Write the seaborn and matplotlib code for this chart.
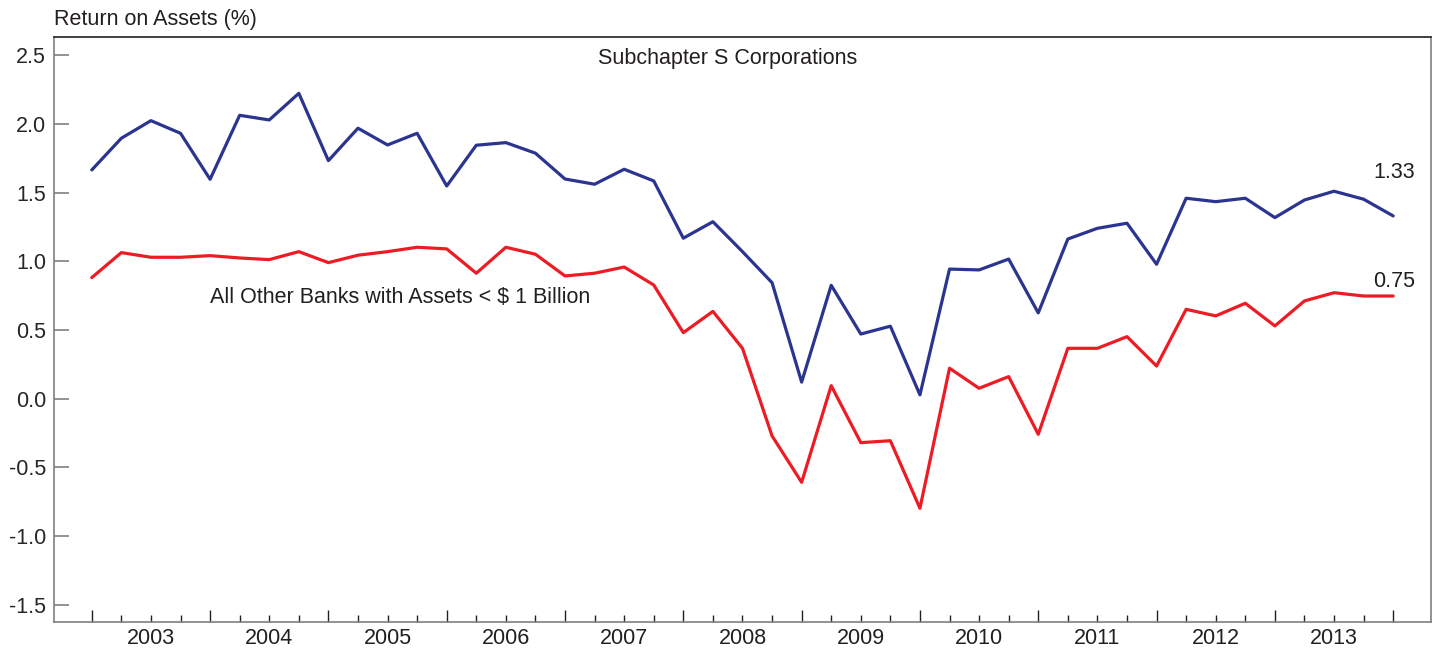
import pandas as pd
import matplotlib
matplotlib.use("Agg")
import matplotlib.pyplot as plt
import seaborn as sns

# quarterly data, 2002Q4 .. 2013Q4
quarters = [f"{y}Q{q}" for y in range(2002, 2014) for q in range(1, 5)][3:]
years = list(range(2003, 2014))

subchapter_s = [
    1.665, 1.896, 2.024, 1.932, 1.597, 2.063, 2.029, 2.223, 1.733, 1.969,
    1.847, 1.932, 1.548, 1.845, 1.864, 1.787, 1.599, 1.561, 1.670, 1.585,
    1.168, 1.288, 1.070, 0.844, 0.120, 0.825, 0.470, 0.527, 0.027, 0.943,
    0.937, 1.016, 0.624, 1.162, 1.240, 1.277, 0.978, 1.459, 1.434, 1.459,
    1.318, 1.446, 1.510, 1.452, 1.330,
]
other_banks = [
    0.881, 1.063, 1.029, 1.029, 1.041, 1.024, 1.012, 1.070, 0.990, 1.044,
    1.070, 1.102, 1.090, 0.913, 1.102, 1.051, 0.893, 0.913, 0.958, 0.827,
    0.480, 0.635, 0.366, -0.272, -0.610, 0.094, -0.321, -0.307, -0.799, 0.221,
    0.075, 0.160, -0.260, 0.366, 0.366, 0.451, 0.237, 0.650, 0.602, 0.694,
    0.529, 0.711, 0.771, 0.747, 0.747,
]

BLUE = "#2b3590"
RED = "#ed1c24"
GRAY = "#808080"
FS = 15.5

sns.set_theme(style="white")
plt.rcParams["font.family"] = ["Liberation Sans", "DejaVu Sans"]
plt.rcParams["text.color"] = "#231f20"

df = pd.DataFrame({
    "quarter": quarters,
    "idx": range(len(quarters)),
    "Subchapter S Corporations": subchapter_s,
    "All Other Banks": other_banks,
})
long = df.melt(id_vars=["quarter", "idx"], var_name="group", value_name="roa")

fig = plt.figure(figsize=(14.42, 6.51), dpi=100)
ax = fig.add_axes([0.0377, 0.0450, 0.9547, 0.8977])

sns.lineplot(data=long, x="idx", y="roa", hue="group",
             palette={"Subchapter S Corporations": BLUE, "All Other Banks": RED},
             linewidth=2.3, legend=False, ax=ax)

ax.set_xlim(-1.265, 45.28)
ax.set_ylim(-1.625, 2.631)
ax.set_xlabel("")
ax.set_ylabel("")

# spines
for side in ["left", "bottom", "right"]:
    ax.spines[side].set_color(GRAY)
    ax.spines[side].set_linewidth(1.2)
ax.spines["top"].set_color("#231f20")
ax.spines["top"].set_linewidth(1.2)

# y ticks
yt = [-1.5, -1.0, -0.5, 0.0, 0.5, 1.0, 1.5, 2.0, 2.5]
ax.set_yticks(yt)
ax.set_yticklabels([f"{v:.1f}" for v in yt])
ax.tick_params(axis="y", direction="in", length=11, width=1.2, color=GRAY,
               labelsize=FS, pad=6, left=True)

# x ticks: year boundaries major, quarters minor, year labels as text
n = len(quarters)
ax.set_xticks(list(range(0, n, 4)))
ax.set_xticks([i for i in range(n) if i % 4 != 0], minor=True)
ax.set_xticklabels([])
ax.tick_params(axis="x", which="major", direction="in", length=9, width=1.0,
               color="#231f20", bottom=True)
ax.tick_params(axis="x", which="minor", direction="in", length=5, width=1.0,
               color="#231f20", bottom=True)
for k, yr in enumerate(years):
    ax.text(4 * k + 2, -0.029, str(yr), transform=ax.get_xaxis_transform(),
            ha="center", va="center", fontsize=FS)

# annotations
ax.text(-1.265, 1.031, "Return on Assets (%)", transform=ax.get_xaxis_transform(),
        ha="left", va="center", fontsize=FS)
ax.text(21.5, 2.48, "Subchapter S Corporations", ha="center", va="center", fontsize=FS)
ax.text(4.0, 0.733, "All Other Banks with Assets < $ 1 Billion", ha="left",
        va="center", fontsize=FS)
ax.text(44.75, 1.65, f"{subchapter_s[-1]:.2f}", ha="right", va="center", fontsize=FS)
ax.text(44.75, 0.85, f"{other_banks[-1]:.2f}", ha="right", va="center", fontsize=FS)

fig.savefig("out.png", dpi=100, facecolor="white")
